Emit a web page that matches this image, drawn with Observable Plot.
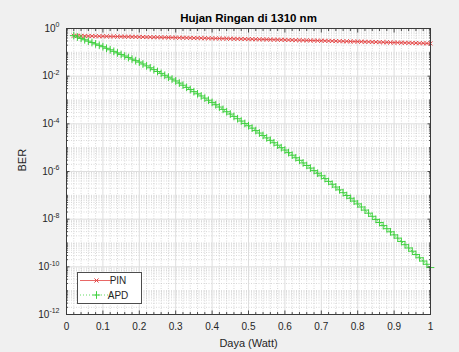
<!DOCTYPE html>
<html>
<head>
<meta charset="utf-8">
<script src="https://cdn.jsdelivr.net/npm/d3@7"></script>
<script src="https://cdn.jsdelivr.net/npm/@observablehq/plot@0.6"></script>
<style>
  html, body { margin: 0; padding: 0; background: #f0f0f0; }
  #chart svg { display: block; }
</style>
</head>
<body>
<div id="chart"></div>
<script>
// Received optical power (W)
const power = [
  0.02, 0.03, 0.04, 0.05, 0.06, 0.07, 0.08, 0.09, 0.10,
  0.11, 0.12, 0.13, 0.14, 0.15, 0.16, 0.17, 0.18, 0.19, 0.20,
  0.21, 0.22, 0.23, 0.24, 0.25, 0.26, 0.27, 0.28, 0.29, 0.30,
  0.31, 0.32, 0.33, 0.34, 0.35, 0.36, 0.37, 0.38, 0.39, 0.40,
  0.41, 0.42, 0.43, 0.44, 0.45, 0.46, 0.47, 0.48, 0.49, 0.50,
  0.51, 0.52, 0.53, 0.54, 0.55, 0.56, 0.57, 0.58, 0.59, 0.60,
  0.61, 0.62, 0.63, 0.64, 0.65, 0.66, 0.67, 0.68, 0.69, 0.70,
  0.71, 0.72, 0.73, 0.74, 0.75, 0.76, 0.77, 0.78, 0.79, 0.80,
  0.81, 0.82, 0.83, 0.84, 0.85, 0.86, 0.87, 0.88, 0.89, 0.90,
  0.91, 0.92, 0.93, 0.94, 0.95, 0.96, 0.97, 0.98, 0.99, 1.00
];

// Bit error rate, PIN photodiode receiver
const berPIN = [
  0.494, 0.491, 0.488, 0.486, 0.483, 0.480, 0.477, 0.474, 0.471,
  0.468, 0.465, 0.463, 0.460, 0.457, 0.454, 0.451, 0.449, 0.446, 0.443,
  0.440, 0.437, 0.434, 0.431, 0.429, 0.426, 0.423, 0.420, 0.417, 0.414,
  0.411, 0.409, 0.406, 0.403, 0.400, 0.398, 0.395, 0.392, 0.389, 0.387,
  0.384, 0.381, 0.378, 0.376, 0.373, 0.370, 0.367, 0.365, 0.362, 0.359,
  0.356, 0.354, 0.351, 0.349, 0.346, 0.343, 0.341, 0.338, 0.336, 0.333,
  0.330, 0.328, 0.325, 0.323, 0.320, 0.317, 0.315, 0.312, 0.310, 0.307,
  0.305, 0.302, 0.300, 0.297, 0.295, 0.292, 0.290, 0.287, 0.285, 0.282,
  0.280, 0.277, 0.275, 0.272, 0.270, 0.268, 0.265, 0.263, 0.260, 0.258,
  0.256, 0.253, 0.251, 0.249, 0.247, 0.244, 0.242, 0.240, 0.238, 0.236
];

// Bit error rate, APD receiver
const berAPD = [
  5.01e-1, 4.39e-1, 3.84e-1, 3.36e-1, 2.94e-1, 2.57e-1, 2.25e-1, 1.97e-1, 1.72e-1,
  1.48e-1, 1.28e-1, 1.10e-1, 9.46e-2, 8.15e-2, 7.01e-2, 6.04e-2, 5.20e-2, 4.48e-2, 3.89e-2,
  3.24e-2, 2.70e-2, 2.25e-2, 1.88e-2, 1.57e-2, 1.31e-2, 1.09e-2, 9.08e-3, 7.57e-3, 6.31e-3,
  5.13e-3, 4.17e-3, 3.39e-3, 2.75e-3, 2.24e-3, 1.82e-3, 1.48e-3, 1.20e-3, 9.77e-4, 7.94e-4,
  6.34e-4, 5.06e-4, 4.04e-4, 3.22e-4, 2.57e-4, 2.05e-4, 1.64e-4, 1.31e-4, 1.04e-4, 8.32e-5,
  6.58e-5, 5.20e-5, 4.11e-5, 3.25e-5, 2.57e-5, 2.03e-5, 1.61e-5, 1.27e-5, 1.00e-5, 7.94e-6,
  6.19e-6, 4.83e-6, 3.77e-6, 2.94e-6, 2.29e-6, 1.79e-6, 1.39e-6, 1.09e-6, 8.47e-7, 6.61e-7,
  5.04e-7, 3.84e-7, 2.92e-7, 2.23e-7, 1.70e-7, 1.29e-7, 9.86e-8, 7.52e-8, 5.73e-8, 4.37e-8,
  3.24e-8, 2.40e-8, 1.78e-8, 1.32e-8, 9.77e-9, 7.24e-9, 5.37e-9, 3.98e-9, 2.95e-9, 2.19e-9,
  1.60e-9, 1.16e-9, 8.49e-10, 6.19e-10, 4.52e-10, 3.30e-10, 2.40e-10, 1.75e-10, 1.28e-10, 9.33e-11
];

const seriesNames = ["PIN", "APD"];
const xTicks = [0, 0.1, 0.2, 0.3, 0.4, 0.5, 0.6, 0.7, 0.8, 0.9, 1];
const yTicks = [1e0, 1e-2, 1e-4, 1e-6, 1e-8, 1e-10, 1e-12];

const titleText = "Hujan Ringan di 1310 nm";
const xLabel = "Daya (Watt)";
const yLabel = "BER";

const colorPIN = "#e2403f";
const colorAPD = "#3fd03f";
const axisColor = "#262626";

// Minor grid: every 0.02 W, and 1..9 x 10^k on the log axis
const xMinor = d3.range(0, 51).map(i => i / 50).filter(v => Math.abs(v * 10 - Math.round(v * 10)) > 1e-9);
const yMinor = d3.range(-12, 0).flatMap(k => d3.range(1, 10).map(m => m * Math.pow(10, k)))
  .filter(v => !yTicks.some(t => Math.abs(v / t - 1) < 1e-9));

const pinRows = power.map((p, i) => ({p, ber: berPIN[i]}));
const apdRows = power.map((p, i) => ({p, ber: berAPD[i]}));

const W = 459, H = 352;
const M = {left: 66, right: 29, top: 28, bottom: 38};

// tick marks only (drawn inward), no text and no label
const tickOnly = (size) => ({tickSize: size, fill: null, label: null, stroke: axisColor, strokeWidth: 0.8});

const chart = Plot.plot({
  width: W,
  height: H,
  marginLeft: M.left,
  marginRight: M.right,
  marginTop: M.top,
  marginBottom: M.bottom,
  style: {
    background: "#f0f0f0",
    fontFamily: "'Liberation Sans', Arial, Helvetica, sans-serif",
    fontSize: "10px",
    color: axisColor
  },
  x: {domain: [0, 1]},
  y: {type: "log", domain: [1e-12, 1]},
  marks: [
    Plot.frame({fill: "white", stroke: null}),
    // minor grid (dotted)
    Plot.gridY(yMinor, {stroke: "#bdbdbd", strokeOpacity: 1, strokeWidth: 0.6, strokeDasharray: "1,1.5"}),
    Plot.gridX(xMinor, {stroke: "#bdbdbd", strokeOpacity: 1, strokeWidth: 0.6, strokeDasharray: "1,1.5"}),
    // major grid
    Plot.gridY(yTicks, {stroke: "#dedede", strokeOpacity: 1, strokeWidth: 1}),
    Plot.gridX(xTicks, {stroke: "#dedede", strokeOpacity: 1, strokeWidth: 1}),
    // PIN: solid line with x markers
    Plot.line(pinRows, {x: "p", y: "ber", stroke: colorPIN, strokeWidth: 0.8}),
    Plot.dot(pinRows, {x: "p", y: "ber", symbol: "times", r: 2, stroke: colorPIN, strokeWidth: 0.9}),
    // APD: dotted line with + markers
    Plot.line(apdRows, {x: "p", y: "ber", stroke: colorAPD, strokeWidth: 0.8, strokeDasharray: "1,2"}),
    Plot.dot(apdRows, {x: "p", y: "ber", symbol: "plus", r: 2.6, stroke: colorAPD, strokeWidth: 1}),
    // tick labels
    Plot.axisX(xTicks, {anchor: "bottom", tickSize: 0, tickPadding: 8, label: null, tickFormat: d => String(d), fill: axisColor}),
    Plot.axisY(yTicks, {anchor: "left", tickSize: 0, tickPadding: 7, label: null, tickFormat: d => String(Math.round(Math.log10(d))), fill: axisColor}),
    // inward ticks on all four sides
    Plot.axisX(xTicks, {anchor: "bottom", ...tickOnly(-3.5)}),
    Plot.axisX(xTicks, {anchor: "top", ...tickOnly(-3.5)}),
    Plot.axisX(xMinor, {anchor: "bottom", ...tickOnly(-2)}),
    Plot.axisX(xMinor, {anchor: "top", ...tickOnly(-2)}),
    Plot.axisY(yTicks, {anchor: "left", ...tickOnly(-3.5)}),
    Plot.axisY(yTicks, {anchor: "right", ...tickOnly(-3.5)}),
    Plot.axisY(yMinor, {anchor: "left", ...tickOnly(-2)}),
    Plot.axisY(yMinor, {anchor: "right", ...tickOnly(-2)}),
    Plot.frame({stroke: "#3a3a3a", strokeWidth: 1}),
    // title and axis labels
    Plot.text([titleText], {text: d => d, frameAnchor: "top", dy: -10, lineAnchor: "middle", fontWeight: "bold", fontSize: 11.5, fill: "#000"}),
    Plot.text([xLabel], {text: d => d, frameAnchor: "bottom", dy: 29, lineAnchor: "middle", fontSize: 11, fill: axisColor}),
    Plot.text([yLabel], {text: d => d, frameAnchor: "left", dx: -44, rotate: -90, lineAnchor: "middle", fontSize: 11, fill: axisColor})
  ]
});

document.getElementById("chart").appendChild(chart);

// y tick labels as 10 with a raised exponent
const svg = d3.select(chart);
svg.selectAll('g[aria-label="y-axis tick label"] text').each(function () {
  const t = d3.select(this);
  const e = t.text();
  t.text("10");
  t.append("tspan").attr("dy", -4.5).attr("font-size", 7).text(e);
});

// legend box in the lower-left corner of the axes
const x0 = M.left, y0 = H - M.bottom;
const lg = svg.append("g").attr("font-family", "'Liberation Sans', Arial, sans-serif").attr("font-size", 10);
lg.append("rect")
  .attr("x", x0 + 11.5).attr("y", y0 - 41.5).attr("width", 64).attr("height", 31)
  .attr("fill", "white").attr("stroke", "#4d4d4d").attr("stroke-width", 1);
const styles = {
  PIN: {color: colorPIN, dash: null, symbol: d3.symbolTimes, size: Math.PI * 4},
  APD: {color: colorAPD, dash: "1,2", symbol: d3.symbolPlus, size: Math.PI * 2.6 * 2.6}
};
seriesNames.forEach((name, i) => {
  const s = styles[name];
  const yy = y0 - 33.5 + i * 14.5;
  lg.append("line")
    .attr("x1", x0 + 14).attr("x2", x0 + 47).attr("y1", yy).attr("y2", yy)
    .attr("stroke", s.color).attr("stroke-width", 0.8).attr("stroke-dasharray", s.dash);
  lg.append("path")
    .attr("transform", `translate(${x0 + 30.5},${yy})`)
    .attr("d", d3.symbol(s.symbol, s.size)())
    .attr("fill", "none").attr("stroke", s.color).attr("stroke-width", 1);
  lg.append("text")
    .attr("x", x0 + 52).attr("y", yy).attr("dy", "0.35em")
    .attr("fill", axisColor).text(name);
});
</script>
</body>
</html>
